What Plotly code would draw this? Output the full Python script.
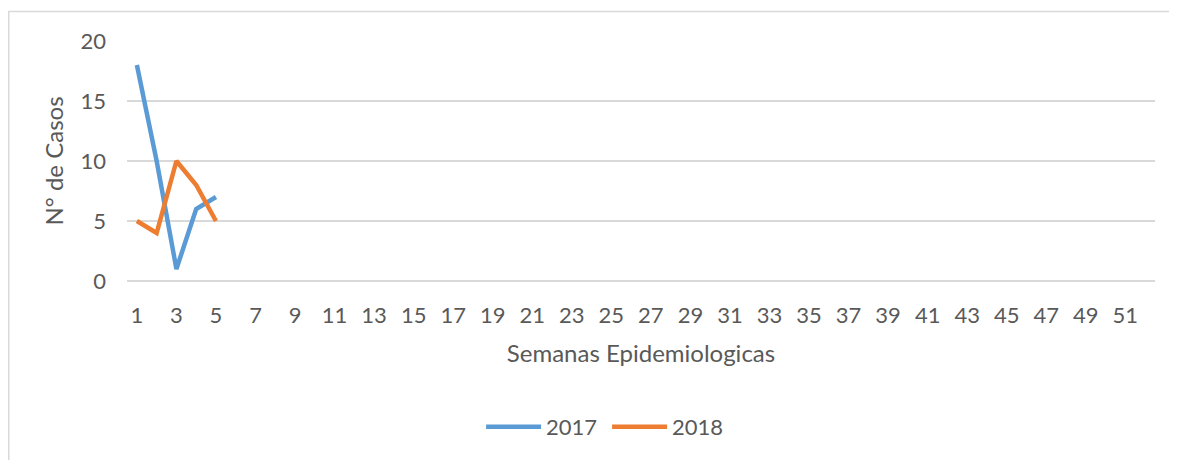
import plotly.graph_objects as go

weeks = [1, 2, 3, 4, 5]
cases_2017 = [18, 10, 1, 6, 7]
cases_2018 = [5, 4, 10, 8, 5]
x_tick_labels = list(range(1, 52, 2))
y_tick_vals = [0, 5, 10, 15, 20]

FONT = "Lato, 'Open Sans', sans-serif"
GRAY = "#595959"
GRID = "#d9d9d9"

fig = go.Figure()
fig.add_trace(go.Scatter(x=weeks, y=cases_2017, mode="lines", name="2017",
                         line=dict(color="#5B9BD5", width=4.5)))
fig.add_trace(go.Scatter(x=weeks, y=cases_2018, mode="lines", name="2018",
                         line=dict(color="#ED7D31", width=4.5)))

# page body has an 8px margin; figure coords are page coords minus 8
W, H = 1169, 452
L, T = 119, 33
pw, ph = 1028, 240
R = W - L - pw
B = H - T - ph

fig.update_layout(
    width=W, height=H,
    margin=dict(l=L, r=R, t=T, b=B),
    paper_bgcolor="white", plot_bgcolor="white",
    font=dict(family=FONT, color=GRAY, size=22),
    showlegend=True,
    legend=dict(orientation="h", x=0.467, xanchor="center",
                y=(T + ph - 419) / ph, yanchor="middle",
                font=dict(size=22, color=GRAY), itemwidth=55,
                entrywidth=56, entrywidthmode="pixels",
                traceorder="normal"),
    xaxis=dict(range=[0.5, 52.5], tickmode="array", tickvals=x_tick_labels,
               ticktext=[str(v) for v in x_tick_labels], showgrid=False,
               zeroline=False, showline=False, ticks="", ticklabelstandoff=19,
               tickfont=dict(size=22, color=GRAY),
               title=dict(text="Semanas Epidemiologicas", font=dict(size=24, color=GRAY),
                          standoff=18)),
    yaxis=dict(range=[0, 20], tickmode="array", tickvals=y_tick_vals, showgrid=True,
               gridcolor=GRID, gridwidth=1.5, zeroline=True, zerolinecolor=GRID,
               zerolinewidth=1.5, showline=False, ticks="", ticklabelstandoff=20,
               tickfont=dict(size=22, color=GRAY),
               title=dict(text="N° de Casos", font=dict(size=24, color=GRAY), standoff=10)),
)

# chart frame
fig.add_shape(type="rect", xref="paper", yref="paper",
              x0=(0.75 - L) / pw, x1=(W + 5 - L) / pw,
              y0=(T + ph - (H + 5)) / ph, y1=(T + ph - 3.5) / ph,
              line=dict(color=GRID, width=1.5), fillcolor="rgba(0,0,0,0)", layer="below")

fig.write_html("out.html")
